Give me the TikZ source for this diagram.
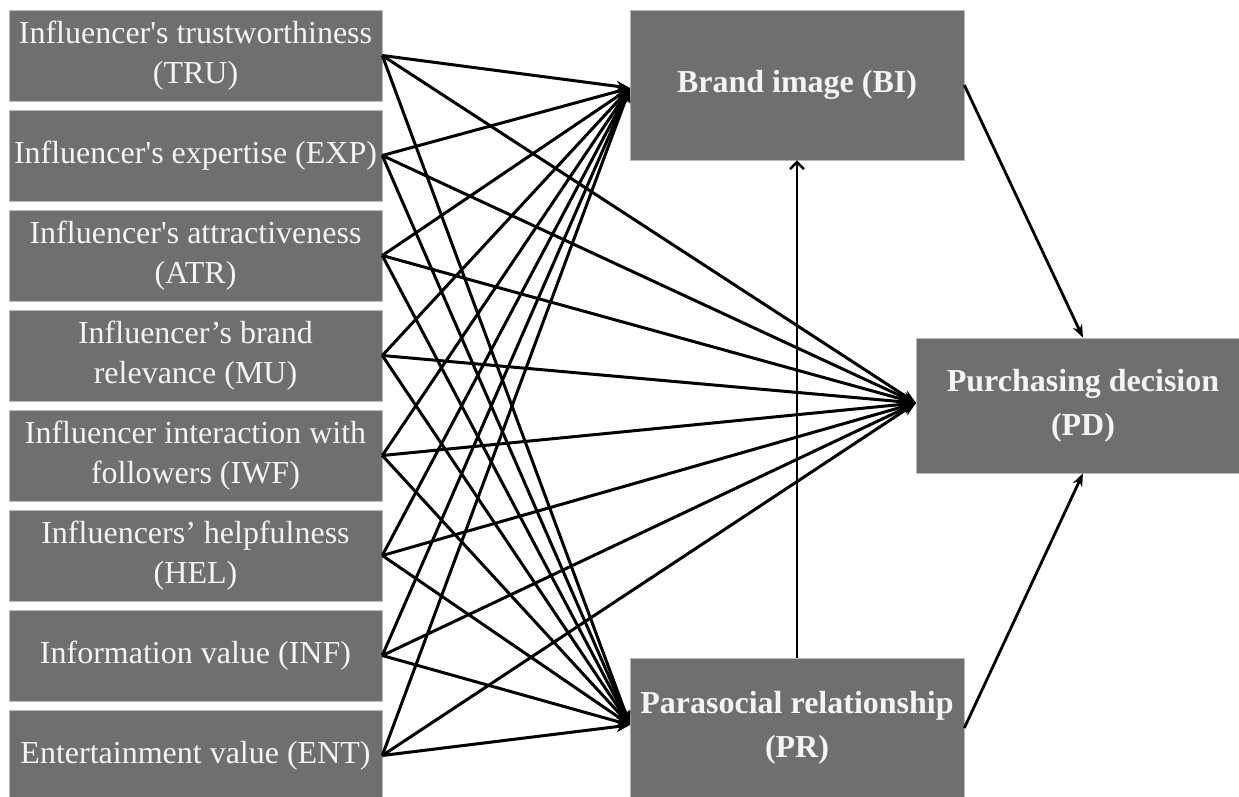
\documentclass[tikz,border=0pt]{standalone}
\usepackage{fontspec}
\setmainfont{Liberation Serif}
\usetikzlibrary{arrows.meta,calc}
\definecolor{boxgray}{HTML}{6F6F6F}
\definecolor{boxtext}{HTML}{F4F4F4}
\definecolor{boxedge}{HTML}{B8B8B8}
\newcommand{\sq}{\XeTeXglyph\XeTeXcharglyph"0027\relax}
\begin{document}
\begin{tikzpicture}[x=1pt,y=-1pt,
  srcbox/.style={rectangle, fill=boxgray, draw=boxedge, line width=0.6pt, text=boxtext,
    minimum width=373pt, minimum height=91pt, align=center, inner sep=0pt,
    font=\fontsize{32}{40}\selectfont},
  tgtbox/.style={rectangle, fill=boxgray, draw=boxedge, line width=0.6pt, text=boxtext,
    minimum width=334pt, align=center, inner sep=0pt,
    font=\fontsize{32}{44}\selectfont\bfseries},
  link/.style={line width=3pt, -{Stealth[length=14pt,width=11pt]}},
  uplink/.style={line width=2.6pt, -{Straight Barb[length=7pt,width=14pt]}},
  pdlink/.style={line width=2.8pt, -{Stealth[length=13pt,width=10pt]}}
]
\useasboundingbox (0,0) rectangle (1239,796);

\node[srcbox] (TRU) at (195.5,55.5)  {Influencer\sq s trustworthiness\\(TRU)};
\node[srcbox] (EXP) at (195.5,155.5) {Influencer\sq s expertise (EXP)};
\node[srcbox] (ATR) at (195.5,255.5) {Influencer\sq s attractiveness\\(ATR)};
\node[srcbox] (MU)  at (195.5,355.5) {Influencer’s brand\\relevance (MU)};
\node[srcbox] (IWF) at (195.5,455.5) {Influencer interaction with\\followers (IWF)};
\node[srcbox] (HEL) at (195.5,555.5) {Influencers’ helpfulness\\(HEL)};
\node[srcbox] (INF) at (195.5,655.5) {Information value (INF)};
\node[srcbox] (ENT) at (195.5,755.5) {Entertainment value (ENT)};

\node[tgtbox, minimum height=150pt] (BI) at (797,85) {Brand image (BI)};
\node[tgtbox, minimum height=140pt] (PR) at (797,728) {Parasocial relationship\\(PR)};
\node[tgtbox, minimum height=135pt] (PD) at (1083,405.5) {Purchasing decision\\(PD)};

\coordinate (biin) at (630,88);
\coordinate (pdin) at (916,403);
\coordinate (prin) at (630,725);

\foreach \s in {TRU,EXP,ATR,MU,IWF,HEL,INF,ENT}{
  \draw[link] (\s.east) -- (biin);
  \draw[link] (\s.east) -- (pdin);
  \draw[link] (\s.east) -- (prin);
}

\draw[uplink] (PR.north) -- (BI.south);
\draw[pdlink] (BI.east) -- (PD.north);
\draw[pdlink] (PR.east) -- (PD.south);
\end{tikzpicture}
\end{document}
